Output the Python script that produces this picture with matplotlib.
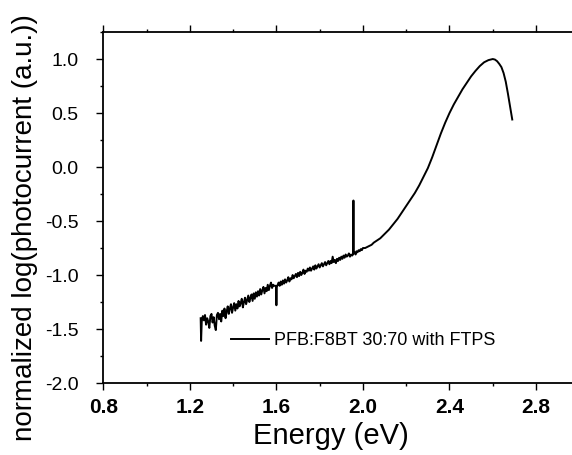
import matplotlib
matplotlib.use("Agg")
import matplotlib.pyplot as plt
from matplotlib.ticker import MultipleLocator, FormatStrFormatter

plt.rcParams['font.family'] = ['Liberation Sans', 'DejaVu Sans']

# photocurrent spectrum, PFB:F8BT 30:70 with FTPS
energy_noisy = [
    1.250, 1.252, 1.255, 1.26, 1.265, 1.27, 1.275, 1.28, 1.285, 1.29, 1.295,
    1.30, 1.305, 1.31, 1.315, 1.32, 1.325, 1.33, 1.335, 1.34, 1.345, 1.35,
    1.355, 1.36, 1.365, 1.37, 1.375, 1.38, 1.385, 1.39, 1.395, 1.40, 1.405,
    1.41, 1.415, 1.42, 1.425, 1.43, 1.435, 1.44, 1.445, 1.45, 1.455, 1.46,
    1.465, 1.47, 1.475, 1.48, 1.485, 1.49, 1.495, 1.50, 1.505, 1.51, 1.515,
    1.52, 1.525, 1.53, 1.535, 1.54, 1.545, 1.55, 1.555, 1.56, 1.565, 1.57,
    1.575, 1.58, 1.585, 1.59, 1.598, 1.600, 1.602, 1.61, 1.615, 1.62, 1.625,
    1.63, 1.635, 1.64, 1.645, 1.65, 1.655, 1.66, 1.665, 1.67, 1.675, 1.68,
    1.685, 1.69, 1.695, 1.70, 1.705, 1.71, 1.715, 1.72, 1.725, 1.73, 1.735,
    1.74, 1.745, 1.75, 1.755, 1.76, 1.765, 1.77, 1.775, 1.78, 1.785, 1.79,
    1.795, 1.80, 1.805, 1.81, 1.815, 1.82, 1.825, 1.83, 1.835, 1.84, 1.845,
    1.85, 1.855, 1.86, 1.865, 1.87, 1.875, 1.88, 1.885, 1.89, 1.895, 1.90,
    1.905, 1.91, 1.915, 1.92, 1.925, 1.93, 1.935, 1.94, 1.945, 1.95, 1.954,
    1.956, 1.958, 1.962, 1.966, 1.97, 1.975, 1.98, 1.985, 1.99, 1.995, 2.00,
    2.01, 2.02, 2.03, 2.04, 2.05,
]
logpc_noisy = [
    -1.40, -1.61, -1.43, -1.38, -1.42, -1.37, -1.46, -1.40, -1.43, -1.49, -1.38,
    -1.36, -1.44, -1.39, -1.47, -1.51, -1.37, -1.35, -1.41, -1.36, -1.43, -1.33,
    -1.38, -1.31, -1.40, -1.34, -1.29, -1.36, -1.31, -1.27, -1.35, -1.30, -1.26,
    -1.33, -1.27, -1.31, -1.24, -1.29, -1.26, -1.22, -1.30, -1.25, -1.21, -1.27,
    -1.23, -1.19, -1.25, -1.21, -1.18, -1.24, -1.17, -1.22, -1.16, -1.20, -1.15,
    -1.19, -1.13, -1.18, -1.14, -1.11, -1.17, -1.12, -1.15, -1.09, -1.14, -1.10,
    -1.07, -1.12, -1.09, -1.10, -1.10, -1.28, -1.11, -1.07, -1.10, -1.06, -1.09,
    -1.05, -1.08, -1.04, -1.07, -1.05, -1.02, -1.06, -1.03, -1.04, -1.00, -1.03,
    -1.01, -0.99, -1.02, -0.98, -1.01, -0.97, -1.00, -0.98, -0.95, -0.99, -0.96,
    -0.97, -0.94, -0.96, -0.93, -0.96, -0.94, -0.92, -0.95, -0.91, -0.94, -0.92,
    -0.90, -0.93, -0.91, -0.89, -0.92, -0.90, -0.88, -0.91, -0.89, -0.87, -0.90,
    -0.87, -0.89, -0.83, -0.88, -0.86, -0.89, -0.85, -0.87, -0.84, -0.86, -0.83,
    -0.85, -0.82, -0.84, -0.81, -0.83, -0.82, -0.80, -0.83, -0.81, -0.82, -0.81,
    -0.31, -0.80, -0.79, -0.81, -0.78, -0.79, -0.77, -0.78, -0.76, -0.77, -0.75,
    -0.75, -0.74, -0.73, -0.72, -0.70,
]
energy_smooth = [
    2.08, 2.10, 2.12, 2.14, 2.16, 2.18, 2.20, 2.22, 2.24, 2.26, 2.28,
    2.30, 2.32, 2.34, 2.36, 2.38, 2.40, 2.42, 2.44, 2.46, 2.48, 2.50,
    2.52, 2.54, 2.56, 2.58, 2.60, 2.61, 2.62, 2.63, 2.64, 2.65, 2.66,
    2.67, 2.68, 2.69,
]
logpc_smooth = [
    -0.66, -0.62, -0.58, -0.53, -0.48, -0.42, -0.36, -0.30, -0.24, -0.17, -0.09,
    -0.01, 0.09, 0.20, 0.31, 0.41, 0.50, 0.58, 0.65, 0.72, 0.78, 0.84,
    0.89, 0.935, 0.97, 0.99, 1.0, 0.995, 0.98, 0.955, 0.925, 0.87, 0.79,
    0.68, 0.56, 0.44,
]

energy = energy_noisy + energy_smooth
logpc = logpc_noisy + logpc_smooth

fig = plt.figure(figsize=(5.72, 4.55), dpi=100)
ax = fig.add_axes([0.1806, 0.1582, 0.8322, 0.7714])

ax.plot(energy, logpc, color='black', linewidth=1.4,
        label='PFB:F8BT 30:70 with FTPS')

ax.set_xlim(0.8, 3.0)
ax.set_ylim(-2.0, 1.25)
ax.xaxis.set_major_locator(MultipleLocator(0.4))
ax.xaxis.set_minor_locator(MultipleLocator(0.2))
ax.yaxis.set_major_locator(MultipleLocator(0.5))
ax.yaxis.set_minor_locator(MultipleLocator(0.25))
ax.xaxis.set_major_formatter(FormatStrFormatter('%.1f'))
ax.yaxis.set_major_formatter(FormatStrFormatter('%.1f'))

for s in ax.spines.values():
    s.set_linewidth(1.3)

ax.tick_params(which='both', direction='out', top=True, right=True, width=1.0)
ax.tick_params(which='major', length=5)
ax.tick_params(which='minor', length=2.5)
ax.tick_params(axis='x', which='major', labelsize=15, pad=6)
ax.tick_params(axis='y', which='major', labelsize=14, pad=13)
for lab in ax.get_xticklabels():
    lab.set_fontweight('bold')

ax.set_xlabel('Energy (eV)', fontsize=21)
ax.set_ylabel('normalized log(photocurrent (a.u.))', fontsize=20)
ax.xaxis.set_label_coords(0.478, -0.112)
ax.yaxis.set_label_coords(-0.137, 0.444)

ax.legend(loc='center left', bbox_to_anchor=(0.268, 0.12), frameon=False,
          fontsize=13, handlelength=2.1, handletextpad=0.3,
          borderpad=0, borderaxespad=0)

plt.savefig('out.png', dpi=100)
